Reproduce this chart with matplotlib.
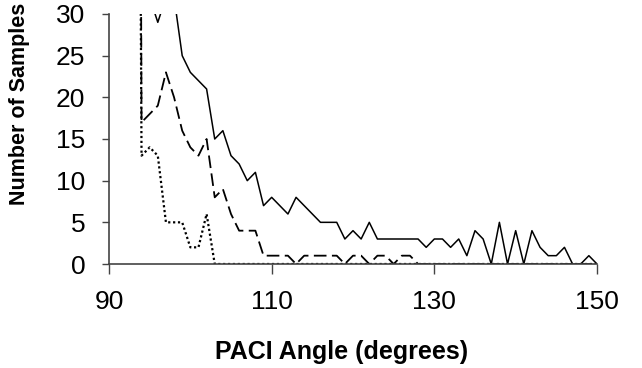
import numpy as np
import matplotlib.pyplot as plt

plt.rcParams['font.family'] = ['Liberation Sans', 'DejaVu Sans']

# angle bins (93 holds the large lower tail, off the top of the chart)
angles = list(range(93, 151))

# three sample series
solid = [400, 45, 32, 29, 32, 32, 25, 23, 22, 21, 15, 16, 13, 12, 10, 11, 7, 8,
         7, 6, 8, 7, 6, 5, 5, 5, 3, 4, 3, 5, 3, 3, 3, 3, 3, 3, 2, 3, 3, 2, 3, 1,
         4, 3, 0, 5, 0, 4, 0, 4, 2, 1, 1, 2, 0, 0, 1, 0]
dashed = [300, 17, 18, 19, 23, 20, 16, 14, 13, 15, 8, 9, 6, 4, 4, 4, 1, 1,
          1, 1, 0, 1, 1, 1, 1, 1, 0, 1, 1, 0, 1, 1, 0, 1, 1, 0, 0, 0, 0, 0, 0, 0,
          0, 0, 0, 0, 0, 0, 0, 0, 0, 0, 0, 0, 0, 0, 0, 0]
dotted = [200, 13, 14, 13, 5, 5, 5, 2, 2, 6, 0, 0, 0, 0, 0, 0, 0, 0,
          0, 0, 0, 0, 0, 0, 0, 0, 0, 0, 0, 0, 0, 0, 0, 0, 0, 0, 0, 0, 0, 0, 0, 0,
          0, 0, 0, 0, 0, 0, 0, 0, 0, 0, 0, 0, 0, 0, 0, 0]

x_ticks = [90, 110, 130, 150]
y_ticks = [0, 5, 10, 15, 20, 25, 30]

fig = plt.figure(figsize=(6.42, 3.68), dpi=100)
ax = fig.add_axes([109/642, 1 - 264/368, (597 - 109)/642, (264 - 14)/368])

ax.plot(angles, solid, color='black', lw=1.1)
ax.plot(angles, dashed, color='black', lw=1.3, dashes=(7, 3))
ax.plot(angles, dotted, color='black', lw=1.6, dashes=(1, 1.2))

ax.set_xlim(90, 150)
ax.set_ylim(0, 30)
ax.set_xticks(x_ticks)
ax.set_yticks(y_ticks)
ax.spines['top'].set_visible(False)
ax.spines['right'].set_visible(False)
for s in ['left', 'bottom']:
    ax.spines[s].set_color('#444444')
    ax.spines[s].set_linewidth(1.2)
ax.tick_params(axis='x', direction='out', length=7, width=1, color='#444444',
               pad=12, labelsize=19)
ax.tick_params(axis='y', direction='out', length=5, width=1, color='#444444',
               pad=12, labelsize=19)

fig.text(342/642, 1 - 352/368, 'PACI Angle (degrees)', ha='center', va='center',
         fontsize=18, fontweight='bold')
fig.text(20/642, 1 - 104/368, 'Number of Samples', ha='center', va='center',
         rotation=90, fontsize=15.5, fontweight='bold')

fig.savefig('out.png', dpi=100)
